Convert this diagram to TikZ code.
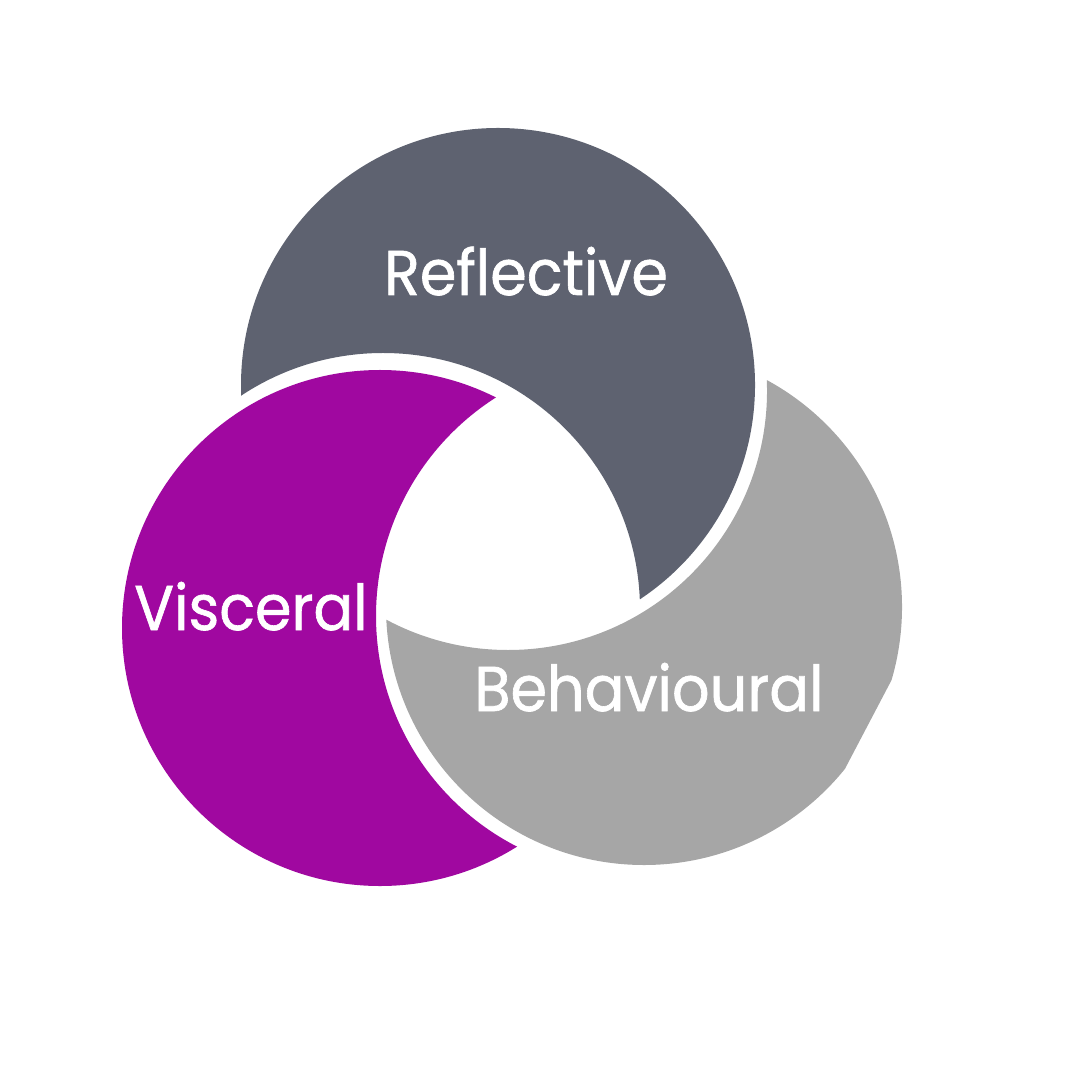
\documentclass[tikz,border=0pt]{standalone}
\usepackage{fontspec}
\setmainfont{Poppins}[FakeStretch=0.93, FakeBold=1]

\definecolor{reflective}{HTML}{5E6270}
\definecolor{visceral}{HTML}{A008A0}
\definecolor{behavioural}{HTML}{A6A6A6}

\begin{document}
\begin{tikzpicture}[x=0.01cm, y=-0.01cm,
        label/.style={text=white, inner sep=0pt, anchor=base,
                font=\fontsize{18}{18}\selectfont}]
        \useasboundingbox (0,0) rectangle (1080,1080);

        \coordinate (R) at (498,385);
        \coordinate (V) at (380,628);
        \coordinate (B) at (644,607);

        % reflective: cut by the visceral circle moved up
        \begin{scope}
                \clip (R) circle (257);
                \fill[reflective, even odd rule] (0,0) rectangle (1080,1080) (383,610) circle (257);
        \end{scope}

        % visceral: cut by the behavioural circle
        \begin{scope}
                \clip (V) circle (258);
                \fill[visceral, even odd rule] (0,0) rectangle (1080,1080) (635,616) circle (259);
        \end{scope}

        % behavioural: cut by the reflective circle, with a flat piece on the right
        \begin{scope}
                \clip (B) circle (258);
                \clip (1100,283) -- (638,1163) -- (0,1163) -- (0,0) -- (1100,0) -- cycle;
                \fill[behavioural, even odd rule] (0,0) rectangle (1080,1080) (508,391) circle (259);
        \end{scope}

        \node[label] (refl) at (526,295) {Reflective};
        \node[label] (visc) at (251,630) {Visceral};
        \node[label] (beha) at (649,711) {Behavioural};
\end{tikzpicture}
\end{document}
